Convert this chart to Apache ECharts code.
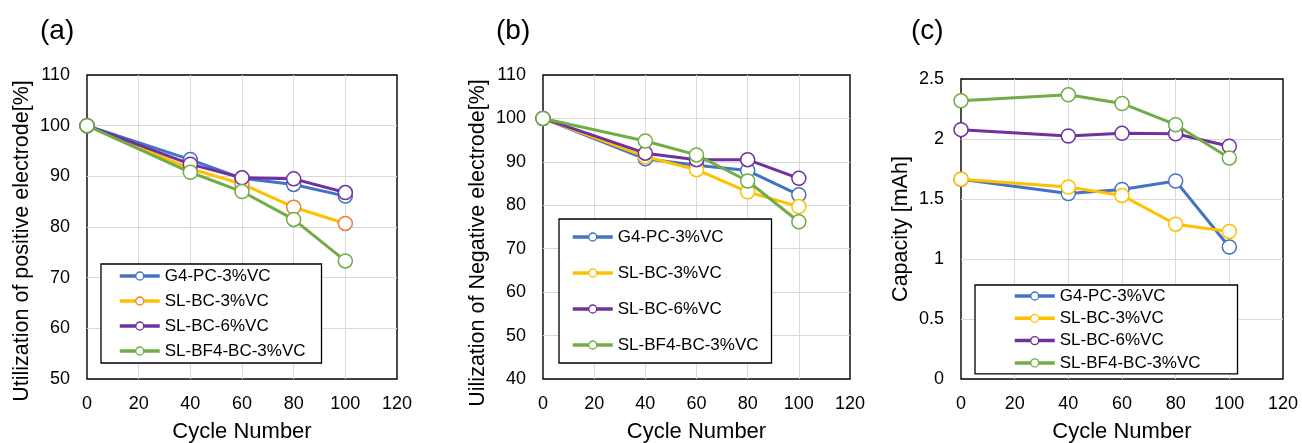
<!DOCTYPE html>
<html>
<head>
<meta charset="utf-8">
<script src="https://cdn.jsdelivr.net/npm/echarts@6/dist/echarts.min.js"></script>
<style>
  html, body { margin: 0; padding: 0; background: #fff; }
  #chart { width: 1302px; height: 443px; }
</style>
</head>
<body>
<div id="chart"></div>
<script>
// Cycle numbers shared by all three panels
const cycles = [0, 40, 60, 80, 100];
const seriesNames = ['G4-PC-3%VC', 'SL-BC-3%VC', 'SL-BC-6%VC', 'SL-BF4-BC-3%VC'];
const xTicks = [0, 20, 40, 60, 80, 100, 120];

// (a) utilization of positive electrode [%]
const posG4PC = [100, 93.3, 89.6, 88.4, 86.1];
const posSLBC3 = [100, 91.5, 88.5, 83.9, 80.7];
const posSLBC6 = [100, 92.4, 89.7, 89.5, 86.8];
const posSLBF4 = [100, 90.8, 87.0, 81.5, 73.3];

// (b) utilization of negative electrode [%]
const negG4PC = [100, 90.7, 89.2, 88.0, 82.4];
const negSLBC3 = [100, 91.2, 88.2, 83.1, 79.7];
const negSLBC6 = [100, 92.0, 90.5, 90.5, 86.2];
const negSLBF4 = [100, 94.8, 91.6, 85.6, 76.2];

// (c) capacity [mAh]
const capG4PC = [1.665, 1.546, 1.58, 1.65, 1.10];
const capSLBC3 = [1.665, 1.60, 1.53, 1.29, 1.23];
const capSLBC6 = [2.078, 2.025, 2.047, 2.044, 1.94];
const capSLBF4 = [2.318, 2.368, 2.296, 2.119, 1.842];

const FONT = '"Liberation Sans", Arial, sans-serif';
const BLUE = '#4472C4', YELLOW = '#FFC000', ORANGE = '#ED7D31', PURPLE = '#7030A0', GREEN = '#70AD47';

const grids = [
  { left: 87, top: 75, width: 310, height: 304 },
  { left: 543, top: 75, width: 307, height: 304 },
  { left: 961, top: 79, width: 322, height: 300 }
];

const yRanges = [
  { min: 50, max: 110, interval: 10 },
  { min: 40, max: 110, interval: 10 },
  { min: 0, max: 2.5, interval: 0.5 }
];

const panelData = [
  [posG4PC, posSLBC3, posSLBC6, posSLBF4],
  [negG4PC, negSLBC3, negSLBC6, negSLBF4],
  [capG4PC, capSLBC3, capSLBC6, capSLBF4]
];

// line colour and marker outline colour per panel
const lineColors = [BLUE, YELLOW, PURPLE, GREEN];
const markerColors = [
  [BLUE, ORANGE, PURPLE, GREEN],
  [BLUE, YELLOW, PURPLE, GREEN],
  [BLUE, YELLOW, PURPLE, GREEN]
];

const gridOpts = grids.map(g => Object.assign({
  show: true, borderColor: '#000', borderWidth: 1.4, backgroundColor: '#fff',
  containLabel: false, outerBoundsMode: 'none'
}, g));

const xAxes = grids.map((g, i) => ({
  type: 'value', gridIndex: i,
  min: xTicks[0], max: xTicks[xTicks.length - 1], interval: xTicks[1] - xTicks[0],
  name: 'Cycle Number', nameLocation: 'middle', nameGap: 42,
  nameTextStyle: { fontFamily: FONT, fontSize: 22, color: '#000' },
  axisLine: { show: false }, axisTick: { show: false },
  axisLabel: { fontFamily: FONT, fontSize: 18, color: '#000', margin: 16 },
  splitLine: { show: true, showMinLine: false, showMaxLine: false, lineStyle: { color: '#d9d9d9', width: 1 } }
}));

const yAxes = grids.map((g, i) => ({
  type: 'value', gridIndex: i,
  min: yRanges[i].min, max: yRanges[i].max, interval: yRanges[i].interval,
  axisLine: { show: false }, axisTick: { show: false },
  axisLabel: { fontFamily: FONT, fontSize: 18, color: '#000', margin: 17 },
  splitLine: { show: true, showMinLine: false, showMaxLine: false, lineStyle: { color: '#d9d9d9', width: 1 } }
}));

const series = [];
panelData.forEach((vals, p) => {
  vals.forEach((ys, s) => {
    series.push({
      type: 'line', name: seriesNames[s], xAxisIndex: p, yAxisIndex: p,
      data: cycles.map((c, k) => [c, ys[k]]),
      symbol: 'circle', symbolSize: 14, showSymbol: true,
      lineStyle: { color: lineColors[s], width: 3 },
      itemStyle: { color: '#fff', borderColor: markerColors[p][s], borderWidth: 1.5 },
      emphasis: { disabled: true },
      z: 2 + s
    });
  });
});

const legendBoxes = [
  { left: 101, top: 264, padding: [2, 16, 2, 17], itemGap: 5 },
  { left: 559, top: 219, padding: [8, 13, 8, 12], itemGap: 16 },
  { left: 975, top: 285, padding: [1, 37, 1, 38], itemGap: 2.3 }
];

const legends = legendBoxes.map((b, p) => ({
  orient: 'vertical', left: b.left, top: b.top, padding: b.padding, itemGap: b.itemGap,
  itemWidth: 40, itemHeight: 10,
  backgroundColor: '#fff', borderColor: '#000', borderWidth: 1.3, borderRadius: 0,
  selectedMode: false,
  textStyle: { fontFamily: FONT, fontSize: 17, color: '#000', lineHeight: 20 },
  itemStyle: { borderWidth: 1.3 },
  lineStyle: { width: 3.5 },
  data: seriesNames.map((n, s) => ({ name: n, itemStyle: { color: '#fff', borderColor: markerColors[p][s] } }))
}));

const yTitles = [
  { x: 22, y: 241, text: 'Utilization of positive electrode[%]' },
  { x: 478, y: 243, text: 'Uilization of Negative electrode[%]' },
  { x: 901, y: 229, text: 'Capacity [mAh]' }
];
const panelLabels = [
  { x: 40, text: '(a)' },
  { x: 496, text: '(b)' },
  { x: 911, text: '(c)' }
];

const graphics = [];
yTitles.forEach(t => graphics.push({
  type: 'text', x: t.x, y: t.y, rotation: Math.PI / 2, silent: true,
  style: { text: t.text, font: '21.5px ' + FONT, fill: '#000', align: 'center', verticalAlign: 'middle' }
}));
panelLabels.forEach(t => graphics.push({
  type: 'text', x: t.x, y: 31, silent: true,
  style: { text: t.text, font: '28px ' + FONT, fill: '#000', align: 'left', verticalAlign: 'middle' }
}));

const chart = echarts.init(document.getElementById('chart'), null, { renderer: 'canvas' });
chart.setOption({
  animation: false,
  backgroundColor: '#fff',
  grid: gridOpts,
  xAxis: xAxes,
  yAxis: yAxes,
  legend: legends,
  series: series,
  graphic: graphics
});
</script>
</body>
</html>
